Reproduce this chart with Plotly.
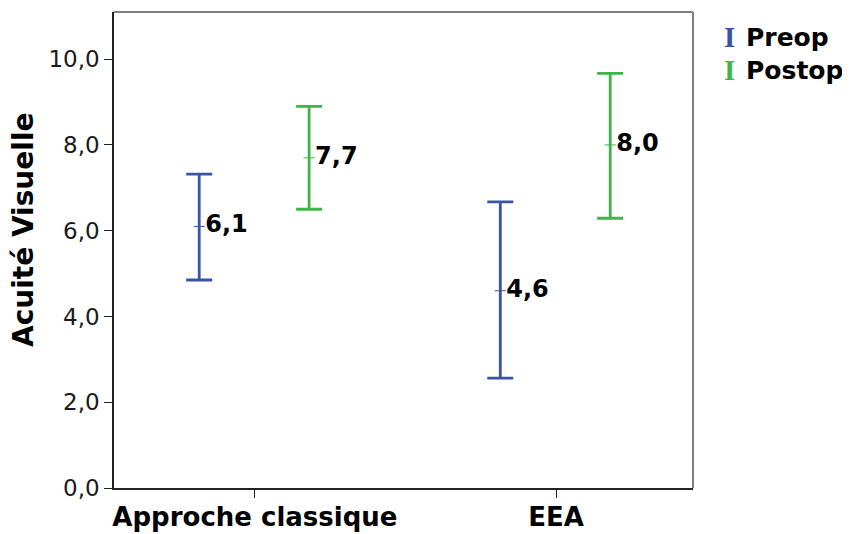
import plotly.graph_objects as go

categories = ["Approche classique", "EEA"]
series = ["Preop", "Postop"]
means = {"Preop": [6.1, 4.6], "Postop": [7.7, 8.0]}
upper = {"Preop": [7.32, 6.67], "Postop": [8.90, 9.67]}
lower = {"Preop": [4.85, 2.56], "Postop": [6.50, 6.29]}
labels = {"Preop": ["6,1", "4,6"], "Postop": ["7,7", "8,0"]}
colors = {"Preop": "#3b53a4", "Postop": "#3db54a"}
offsets = {"Preop": -0.185, "Postop": 0.18}
yticks = [0, 2, 4, 6, 8, 10]
yticktext = ["0,0", "2,0", "4,0", "6,0", "8,0", "10,0"]
ytitle = "Acuité Visuelle"

FONT = "DejaVu Sans"
fig = go.Figure()
for s in series:
    xs = [i + offsets[s] for i in range(len(categories))]
    fig.add_trace(go.Scatter(
        x=xs, y=means[s], mode="markers+text", name=s,
        text=labels[s], textposition="middle right",
        textfont=dict(family=FONT, size=24, color="#000000", weight="bold"),
        marker=dict(symbol="line-ew", size=8, line=dict(width=1, color=colors[s]), color=colors[s]),
        error_y=dict(type="data", symmetric=False,
                     array=[u - m for u, m in zip(upper[s], means[s])],
                     arrayminus=[m - l for m, l in zip(means[s], lower[s])],
                     color=colors[s], thickness=2.8, width=13),
        showlegend=False,
        cliponaxis=False,
    ))

# page body has an 8px margin, so the figure is drawn 8px in from the window corner
fig.update_layout(
    width=842, height=526,
    margin=dict(l=106, r=157, t=4, b=46, autoexpand=False),
    paper_bgcolor="white", plot_bgcolor="white",
    font=dict(family=FONT, color="#222222"),
    xaxis=dict(range=[-0.468, 1.455], tickvals=[0, 1], ticktext=categories, automargin=False,
               showgrid=False, zeroline=False, showline=True, linecolor="#222222", linewidth=1.5,
               mirror=False, ticks="outside", ticklen=8, tickcolor="#222222", ticklabelstandoff=-3,
               tickfont=dict(family=FONT, size=26, color="#000000", weight="bold")),
    yaxis=dict(range=[0, 11.1], tickvals=yticks, ticktext=yticktext, automargin=False,
               showgrid=False, zeroline=False, showline=True, linecolor="#222222", linewidth=1.5,
               mirror=False, ticks="outside", ticklen=8, tickcolor="#222222",
               tickfont=dict(family=FONT, size=23, color="#1a1a1a")),
)

# grey top and right frame lines
fig.add_shape(type="line", xref="paper", yref="paper", x0=0, x1=1, y0=1, y1=1,
              line=dict(color="#808080", width=2))
fig.add_shape(type="line", xref="paper", yref="paper", x0=1, x1=1, y0=0, y1=1,
              line=dict(color="#808080", width=2))

fig.add_annotation(
    xref="paper", yref="paper", x=0, xshift=-91, y=0.542,
    xanchor="center", yanchor="middle", showarrow=False, textangle=-90,
    text=ytitle, font=dict(family=FONT, size=28, color="#000000", weight="bold"),
)

for k, s in enumerate(series):
    yk = 1 - (25 + 33 * k) / 476
    fig.add_annotation(
        xref="paper", yref="paper", x=1.0, xshift=29, y=yk,
        xanchor="left", yanchor="middle", showarrow=False,
        text="I", font=dict(family="Liberation Serif", size=29, color=colors[s], weight="bold"),
    )
    fig.add_annotation(
        xref="paper", yref="paper", x=1.0, xshift=51, y=yk,
        xanchor="left", yanchor="middle", showarrow=False,
        text=s, font=dict(family=FONT, size=25, color="#000000", weight="bold"),
    )

fig.write_html("out.html")
